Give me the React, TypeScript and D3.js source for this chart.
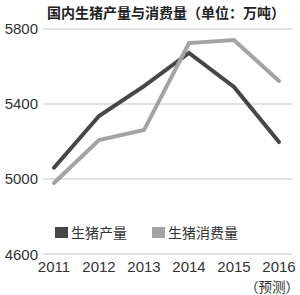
import React from 'react';
import {scaleLinear, scalePoint, line} from 'd3';

const years = ['2011', '2012', '2013', '2014', '2015', '2016'];
const production = [5060, 5336, 5495, 5672, 5491, 5197];
const consumption = [4979, 5208, 5261, 5725, 5741, 5523];
const yTicks = [4600, 5000, 5400, 5800];
const seriesNames = ['生猪产量', '生猪消费量'];

const App = () => {
    const width = 300, height = 295;
    const font = '"Liberation Sans", Arial, "Noto Sans CJK SC", sans-serif';
    const cjk = '"Noto Sans CJK SC", sans-serif';

    const x = scalePoint().domain(years).range([54, 279]);
    const y = scaleLinear().domain([4600, 5800]).range([254, 29]);

    const path = line<number>()
        .x((d, i) => x(years[i]) as number)
        .y(d => y(d));

    const colors = ['#464646', '#a3a3a3'];

    return (
        <svg width={width} height={height} style={{position: 'absolute', left: 0, top: 0, background: '#fff'}}>
            <text x={166} y={18} textAnchor="middle" fontFamily={cjk} fontWeight="bold" fontSize={14} fill="#222">
                国内生猪产量与消费量（单位：万吨）
            </text>
            {yTicks.map(t => (
                <g key={t}>
                    <line x1={43} x2={292} y1={y(t)} y2={y(t)} stroke="#c4c4c4" strokeWidth={1.2}/>
                    <text x={38} y={y(t) + (t === 4600 ? 6 : 5)} textAnchor="end" fontFamily={font} fontSize={15} fill="#333">{t}</text>
                </g>
            ))}
            {[production, consumption].map((s, i) => (
                <path key={i} d={path(s) || ''} fill="none" stroke={colors[i]} strokeWidth={4} strokeLinejoin="miter" strokeLinecap="round"/>
            ))}
            {years.map(yr => (
                <text key={yr} x={x(yr) as number} y={272} textAnchor="middle" fontFamily={font} fontSize={15} fill="#333">{yr}</text>
            ))}
            <text x={x('2016') as number - 7} y={292} textAnchor="middle" fontFamily={cjk} fontSize={13.5} fill="#333">（预测）</text>
            {seriesNames.map((n, i) => (
                <g key={n} transform={`translate(${i === 0 ? 55 : 152},227)`}>
                    <rect x={0} y={0} width={13} height={11} fill={colors[i]}/>
                    <text x={16} y={11} fontFamily={cjk} fontSize={14} fill="#333">{n}</text>
                </g>
            ))}
        </svg>
    );
};

export default App;
